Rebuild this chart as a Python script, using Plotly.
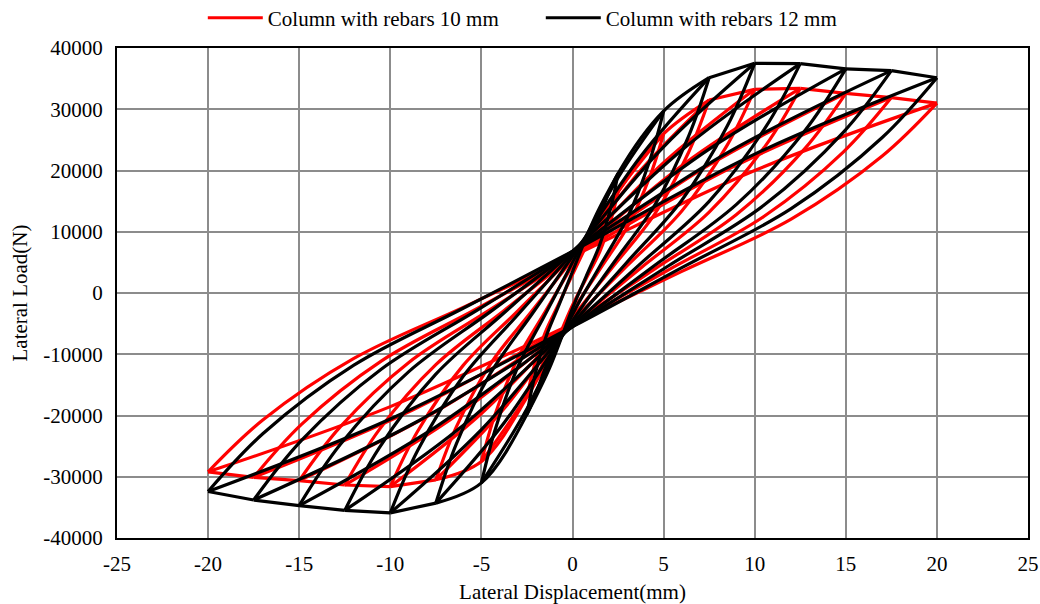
import plotly.graph_objects as go

# ---------------- data ----------------
amps = [2.5, 5, 7.5, 10, 12.5, 15, 17.5, 20]

# displacements at which each branch was read (positive side values)
unload_xa = [2.125, 4.25, 6.375, 8.5, 10.625, 12.75, 14.875, 17.0]
unload_xb = [1.5, 3.0, 4.5, 6.0, 7.5, 9.0, 10.5, 12.0]
unload_xc = [0.75, 1.5, 2.25, 3.0, 3.75, 4.5, 5.25, 6.0]
reload_xm = [1.25, 2.5, 3.75, 5.0, 6.25, 7.5, 8.75, 10.0]
backbone_x = [0.4, 1.3]

# Column with rebars 10 mm (red)
red_pos_peak = [16500, 26000, 31500, 33250, 33400, 32600, 31900, 31000]
red_neg_peak = [-17000, -27500, -30500, -31600, -31350, -30640, -30100, -29200]
red_pinch_hi = [3000, 4500, 5500, 6000, 6000, 6000, 6000, 6000]
red_pinch_lo = [-2000, -3000, -4000, -4500, -5000, -5000, -5000, -5000]
red_pos_unload_a = [12060, 19040, 22980, 24190, 24180, 23580, 23040, 22360]
red_pos_unload_b = [6770, 10750, 12830, 13390, 13200, 12820, 12490, 12060]
red_pos_unload_c = [2380, 3870, 4410, 4450, 4100, 3910, 3750, 3530]
red_neg_reload = [-10400, -16720, -18840, -19680, -19760, -19360, -19060, -18550]
red_neg_unload_a = [-12200, -19820, -21860, -22580, -22390, -21850, -21440, -20750]
red_neg_unload_b = [-6480, -10670, -11560, -11820, -11700, -11370, -11110, -10680]
red_neg_unload_c = [-1740, -3080, -3030, -2910, -2850, -2680, -2560, -2340]
red_pos_reload = [10560, 16540, 20060, 21260, 21340, 20900, 20500, 20000]
red_backbone_pos = [6500, 10000]
red_backbone_neg = [-5500, -9500]

# Column with rebars 12 mm (black)
blk_pos_peak = [19500, 29700, 35150, 37500, 37450, 36600, 36300, 35150]
blk_neg_peak = [-19800, -31000, -34300, -35900, -35500, -34700, -33800, -32400]
blk_pinch_hi = [3500, 5000, 6000, 6500, 6800, 6800, 6800, 6800]
blk_pinch_lo = [-2500, -3500, -4500, -5000, -5300, -5500, -5500, -5500]
blk_pos_unload_a = [14220, 21730, 25630, 27300, 27190, 26500, 26270, 25390]
blk_pos_unload_b = [7930, 12240, 14290, 15150, 14960, 14460, 14310, 13770]
blk_pos_unload_c = [2710, 4370, 4900, 5070, 4830, 4480, 4410, 4130]
blk_neg_reload = [-12190, -18900, -21190, -22300, -22210, -21850, -21350, -20560]
blk_neg_unload_a = [-14210, -22360, -24630, -25720, -25350, -24740, -24060, -22990]
blk_neg_unload_b = [-7540, -12060, -13100, -13600, -13250, -12870, -12440, -11780]
blk_neg_unload_c = [-2020, -3530, -3550, -3550, -3230, -3040, -2820, -2490]
blk_pos_reload = [12460, 18830, 22320, 23860, 23960, 23490, 23320, 22680]
blk_backbone_pos = [7300, 11500]
blk_backbone_neg = [-6000, -10900]

x_ticks = [-25, -20, -15, -10, -5, 0, 5, 10, 15, 20, 25]
x_ticklabels = ["-25", "-20", "-15", "-10", "-5", "0", "5", "10", "15", "20", "25"]
y_ticks = [-40000, -30000, -20000, -10000, 0, 10000, 20000, 30000, 40000]
y_ticklabels = ["-40000", "-30000", "-20000", "-10000", "0", "10000", "20000", "30000", "40000"]


def build(pp, npk, hi, lo, pua, pub, puc, nr, nua, nub, nuc, pr, bbp, bbn):
    xs, ys = [], []
    for i, a in enumerate(amps):
        # positive peak -> unloading -> lower pinch -> negative peak
        xs += [a, unload_xa[i], unload_xb[i], unload_xc[i], 0, -reload_xm[i], -a, None]
        ys += [pp[i], pua[i], pub[i], puc[i], lo[i], nr[i], npk[i], None]
        # negative peak -> unloading -> upper pinch -> positive peak
        xs += [-a, -unload_xa[i], -unload_xb[i], -unload_xc[i], 0, reload_xm[i], a, None]
        ys += [npk[i], nua[i], nub[i], nuc[i], hi[i], pr[i], pp[i], None]
    # skeleton curve, positive
    xs += backbone_x + amps[:3] + [None]
    ys += bbp + pp[:3] + [None]
    for i in range(2, len(amps) - 1):
        xs += [amps[i], amps[i + 1], None]
        ys += [pp[i], pp[i + 1], None]
    # skeleton curve, negative
    xs += [-v for v in backbone_x] + [-v for v in amps[:3]] + [None]
    ys += bbn + npk[:3] + [None]
    for i in range(2, len(amps) - 1):
        xs += [-amps[i], -amps[i + 1], None]
        ys += [npk[i], npk[i + 1], None]
    return xs, ys


rx, ry = build(red_pos_peak, red_neg_peak, red_pinch_hi, red_pinch_lo,
               red_pos_unload_a, red_pos_unload_b, red_pos_unload_c, red_neg_reload,
               red_neg_unload_a, red_neg_unload_b, red_neg_unload_c, red_pos_reload,
               red_backbone_pos, red_backbone_neg)
bx, by = build(blk_pos_peak, blk_neg_peak, blk_pinch_hi, blk_pinch_lo,
               blk_pos_unload_a, blk_pos_unload_b, blk_pos_unload_c, blk_neg_reload,
               blk_neg_unload_a, blk_neg_unload_b, blk_neg_unload_c, blk_pos_reload,
               blk_backbone_pos, blk_backbone_neg)

FONT = "Liberation Serif, Times New Roman, serif"

fig = go.Figure()
fig.add_trace(go.Scatter(x=rx, y=ry, mode="lines", name="Column with rebars 10 mm",
                         line=dict(color="#FF0000", width=3.2, shape="spline", smoothing=1.0),
                         connectgaps=False))
fig.add_trace(go.Scatter(x=bx, y=by, mode="lines", name="Column with rebars 12 mm",
                         line=dict(color="#000000", width=3.2, shape="spline", smoothing=1.0),
                         connectgaps=False))

fig.update_layout(
    width=1040, height=604,
    margin=dict(l=117, r=12, t=48, b=66),
    paper_bgcolor="white", plot_bgcolor="white",
    font=dict(family=FONT, size=21, color="black"),
    showlegend=True,
    legend=dict(orientation="h", xref="container", yref="container",
                x=0.195, xanchor="left", y=0.970, yanchor="middle",
                font=dict(family=FONT, size=21), bgcolor="rgba(0,0,0,0)",
                itemwidth=55, entrywidthmode="pixels", entrywidth=268),
    xaxis=dict(range=[-25, 25], tickvals=x_ticks, ticktext=x_ticklabels,
               showgrid=True, gridcolor="#8c8c8c", gridwidth=1.5,
               zeroline=False, showline=True, linecolor="black", linewidth=2, mirror=True,
               ticks="", ticklabelstandoff=6, automargin=False,
               title=dict(text="Lateral Displacement(mm)", standoff=12,
                          font=dict(family=FONT, size=21))),
    yaxis=dict(range=[-40000, 40000], tickvals=y_ticks, ticktext=y_ticklabels,
               showgrid=True, gridcolor="#8c8c8c", gridwidth=1.5,
               zeroline=False, showline=True, linecolor="black", linewidth=2, mirror=True,
               ticks="", ticklabelstandoff=8, automargin=False,
               title=dict(text="Lateral Load(N)", standoff=10,
                          font=dict(family=FONT, size=21))),
)

fig.write_html("out.html")
